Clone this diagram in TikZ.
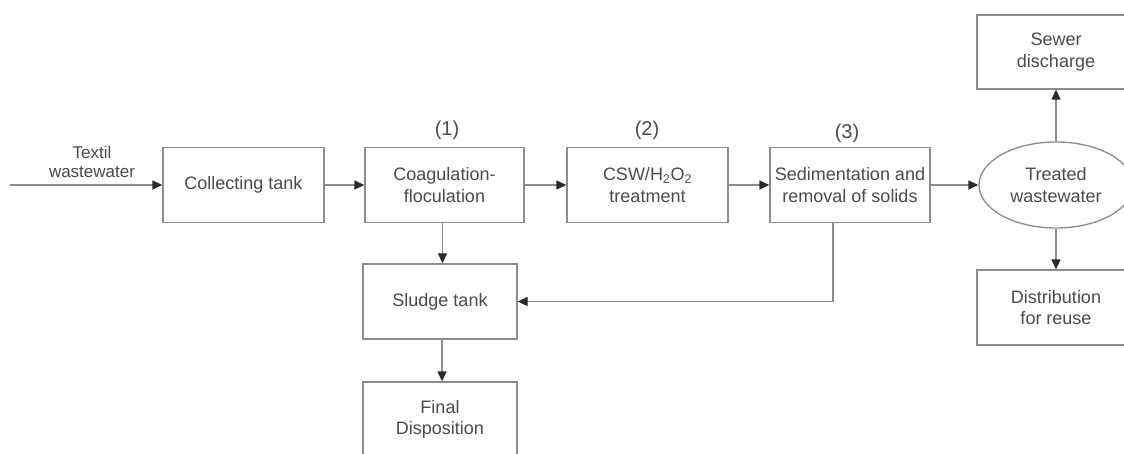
\documentclass[tikz,border=0pt]{standalone}
\usepackage{fontspec}
\setmainfont{Liberation Sans}
\usetikzlibrary{arrows.meta,shapes.geometric,calc}
\definecolor{linegray}{HTML}{8C8C8C}
\definecolor{txtgray}{HTML}{4A4A4A}
\definecolor{tipgray}{HTML}{2A2A2A}
\tikzset{
  box/.style={draw=linegray, line width=1.3pt, rectangle, align=center, text=txtgray,
    font=\fontsize{18}{21.5}\selectfont, inner sep=0pt},
  oval/.style={draw=linegray, line width=1.3pt, ellipse, align=center, text=txtgray,
    font=\fontsize{18}{21.5}\selectfont, inner sep=0pt, minimum width=154pt, minimum height=86pt},
  lbl/.style={text=txtgray, align=center, font=\fontsize{17}{19.5}\selectfont, inner sep=0pt},
  num/.style={text=txtgray, font=\fontsize{20}{22}\selectfont, inner sep=0pt},
  arr/.style={draw=linegray, line width=1.3pt, -{Triangle[length=10pt,width=9pt,color=tipgray]}},
}
\begin{document}
\begin{tikzpicture}[x=1pt,y=-1pt]
\clip (0,0) rectangle (1124,454);
\fill[white] (0,0) rectangle (1124,454);
\node[box, minimum width=161pt, minimum height=75pt] (collect) at (243.5,185) {Collecting tank};
\node[box, minimum width=159pt, minimum height=75pt] (coag) at (444.5,185) {Coagulation-\\floculation};
\node[box, minimum width=161pt, minimum height=75pt] (csw) at (647.5,185) {CSW/H\textsubscript{2}O\textsubscript{2}\\treatment};
\node[box, minimum width=160pt, minimum height=75pt] (sed) at (850,185) {Sedimentation and\\removal of solids};
\node[oval] (treated) at (1056,185) {Treated\\wastewater};
\node[box, minimum width=158pt, minimum height=74pt] (sewer) at (1056,52) {Sewer\\discharge};
\node[box, minimum width=158pt, minimum height=75pt] (dist) at (1056,307.5) {Distribution\\for reuse};
\node[box, minimum width=154pt, minimum height=75pt] (sludge) at (440,301.5) {Sludge tank};
\node[box, minimum width=154pt, minimum height=75pt] (final) at (440,419.5) {Final\\Disposition};
\node[lbl] (textil) at (92,162) {Textil\\wastewater};
\node[num] (n1) at (447,130) {(1)};
\node[num] (n2) at (647,130) {(2)};
\node[num] (n3) at (847,133) {(3)};
\coordinate (in) at (10,185);
\draw[arr] (in) -- (collect.west);
\draw[arr] (collect) -- (coag);
\draw[arr] (coag) -- (csw);
\draw[arr] (csw) -- (sed);
\draw[arr] (sed) -- (treated);
\draw[arr] (treated) -- (sewer);
\draw[arr] (treated) -- (dist);
\coordinate (coagout) at ($(coag.south)+(-2,0)$);
\draw[arr] (coagout) -- (coagout |- sludge.north);
\coordinate (sedout) at ($(sed.south)+(-17,0)$);
\draw[arr] (sedout) |- (sludge.east);
\coordinate (sludgeout) at ($(sludge.south)+(2,0)$);
\draw[arr] (sludgeout) -- (sludgeout |- final.north);
\end{tikzpicture}
\end{document}
